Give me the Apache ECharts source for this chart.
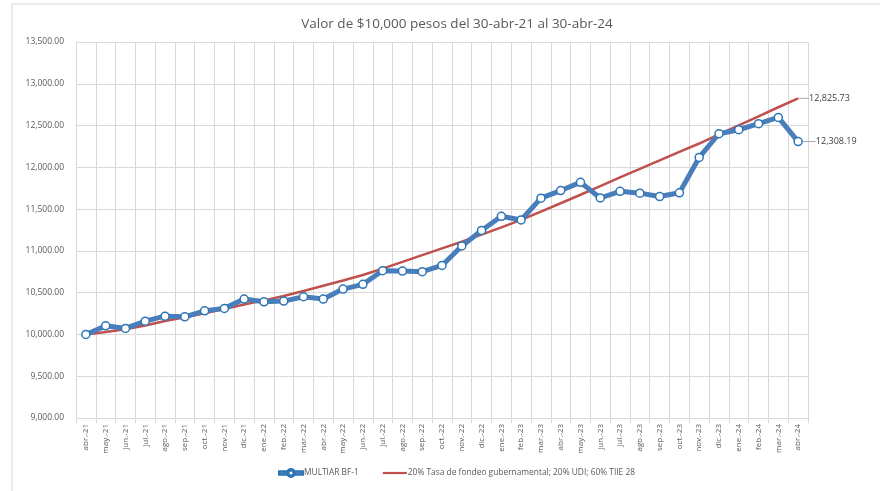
<!DOCTYPE html>
<html>
<head>
<meta charset="utf-8">
<script src="https://cdn.jsdelivr.net/npm/echarts@6/dist/echarts.min.js"></script>
<style>html,body{margin:0;padding:0;background:#fff;}#c{width:880px;height:491px;}</style>
</head>
<body>
<div id="c"></div>
<script>
const categories = ['abr.-21','may.-21','jun.-21','jul.-21','ago.-21','sep.-21','oct.-21','nov.-21','dic.-21',
  'ene.-22','feb.-22','mar.-22','abr.-22','may.-22','jun.-22','jul.-22','ago.-22','sep.-22','oct.-22','nov.-22','dic.-22',
  'ene.-23','feb.-23','mar.-23','abr.-23','may.-23','jun.-23','jul.-23','ago.-23','sep.-23','oct.-23','nov.-23','dic.-23',
  'ene.-24','feb.-24','mar.-24','abr.-24'];
const multiar = [10000,10103,10072,10159,10219,10211,10283,10312,10423,
  10391,10399,10451,10423,10543,10600,10763,10758,10751,10826,11059,11245,
  11414,11370,11631,11722,11820,11633,11713,11691,11650,11695,12118,12402,
  12450,12522,12597,12308.19];
const benchmark = [10000,10030,10062,10108,10160,10206,10252,10305,10358,
  10408,10460,10520,10583,10645,10711,10788,10868,10950,11030,11110,11195,
  11282,11372,11470,11570,11672,11776,11879,11982,12083,12185,12285,12394,
  12502,12611,12719,12825.73];
const seriesNames = ['MULTIAR BF-1','20% Tasa de fondeo gubernamental; 20% UDI; 60% TIIE 28'];
const titleText = 'Valor de $10,000 pesos del 30-abr-21 al 30-abr-24';

const fmt = v => Number(v).toLocaleString('en-US',{minimumFractionDigits:2,maximumFractionDigits:2});
const FONT = 'Open Sans';

function withEndLabel(arr) {
  return arr.map((v,i) => i === arr.length-1 ? {
    value: v,
    label: {show:true, position:'right', distance:3, formatter: p => fmt(p.value), color:'#404040', fontSize:9, fontFamily:FONT},
    labelLine: {show:true, lineStyle:{color:'#a6a6a6', width:1}}
  } : v);
}

const chart = echarts.init(document.getElementById('c'));
chart.setOption({
  animation:false,
  backgroundColor:'#fff',
  title:{text:titleText, left:452, top:12, textAlign:'center',
    textStyle:{fontFamily:FONT, fontSize:13.5, fontWeight:'normal', color:'#595959'}},
  graphic:[{type:'rect', shape:{x:12,y:4,width:900,height:520}, style:{fill:'none', stroke:'#d9d9d9', lineWidth:1}, silent:true}],
  grid:{left:76, right:72, top:42, bottom:73},
  legend:{bottom:13, left:278, padding:0, itemGap:24, itemWidth:24, itemHeight:8,
    textStyle:{fontFamily:FONT, fontSize:8.4, color:'#595959', padding:[0,0,0,-4]},
    data:[
      {name:seriesNames[0], icon:'path://M0,2.3 L8.2,2.3 L8.2,5.7 L0,5.7 Z M15.8,2.3 L24,2.3 L24,5.7 L15.8,5.7 Z M8,4 A4,4 0 1,1 16,4 A4,4 0 1,1 8,4 Z M9.5,4 A2.5,2.5 0 1,0 14.5,4 A2.5,2.5 0 1,0 9.5,4 Z',
        itemStyle:{color:'#4a7ebb'}},
      {name:seriesNames[1], icon:'path://M0,2.9 L24,2.9 L24,5.1 L0,5.1 Z', itemStyle:{color:'#c0504d'}}
    ]},
  xAxis:{type:'category', data:categories, boundaryGap:true,
    axisLine:{lineStyle:{color:'#d9d9d9'}},
    axisTick:{show:true, length:5, lineStyle:{color:'#d9d9d9'}},
    splitLine:{show:true, lineStyle:{color:'#d9d9d9'}},
    axisLabel:{interval:0, rotate:90, fontFamily:FONT, fontSize:8, color:'#595959', margin:6}},
  yAxis:{type:'value', min:9000, max:13500, interval:500,
    axisLine:{show:false},
    axisTick:{show:false},
    splitLine:{lineStyle:{color:'#d9d9d9'}},
    axisLabel:{formatter: v => fmt(v), fontFamily:FONT, fontSize:8.5, color:'#595959', margin:12}},
  series:[
    {name:seriesNames[0], type:'line', data:withEndLabel(multiar), z:3,
      symbol:'circle', symbolSize:8,
      lineStyle:{color:'#4a7ebb', width:5},
      itemStyle:{color:'#ffffff', borderColor:'#2e75b6', borderWidth:1.5},
      labelLayout:{dx:10, dy:0}
    },
    {name:seriesNames[1], type:'line', data:withEndLabel(benchmark), z:2,
      symbol:'circle', symbolSize:0.01, showSymbol:true,
      lineStyle:{color:'#c0504d', width:2.5},
      itemStyle:{color:'#c0504d'},
      labelLayout:{dx:8, dy:0}
    }
  ]
});
</script>
</body>
</html>
